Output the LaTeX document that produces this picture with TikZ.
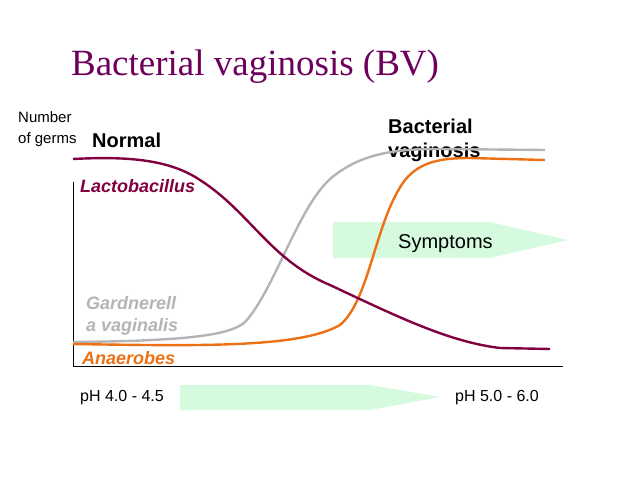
\documentclass[tikz,border=0pt]{standalone}
\usepackage{fontspec}
\setmainfont{Liberation Serif}
\setsansfont{Liberation Sans}
\definecolor{lacto}{RGB}{128,0,64}
\definecolor{gard}{RGB}{180,180,180}
\definecolor{anae}{RGB}{236,112,20}
\definecolor{arrowgreen}{RGB}{214,250,222}
\tikzset{
  lbl/.style={font=\sffamily\fontsize{16}{19}\selectfont, anchor=west, inner sep=0pt},
  curvelbl/.style={font=\sffamily\bfseries\itshape\fontsize{18}{22}\selectfont, anchor=west, inner sep=0pt, align=left},
  headlbl/.style={font=\sffamily\bfseries\fontsize{20}{24}\selectfont, anchor=west, inner sep=0pt, align=left},
  germline/.style={line width=2.4pt}
}
\begin{document}
\begin{tikzpicture}[x=1pt,y=-1pt]
    \useasboundingbox (0,0) rectangle (638,479);
    %Title
    \node (title) at (255,67) {\fontsize{37}{42}\selectfont\color{lacto!85!blue}Bacterial vaginosis (BV)};
    %Axis labels
    \node[lbl, font=\sffamily\fontsize{15}{18}\selectfont, align=left] (number) at (18,129) {Number\\[3pt]of germs};
    \node[headlbl] (normal) at (92,140) {Normal};
    \node[headlbl] (bv) at (388,140) {Bacterial\\vaginosis};
    %Arrows
    \fill[arrowgreen] (333,222) -- (490,222) -- (568,240) -- (490,258) -- (333,258) -- cycle;
    \node[lbl, font=\sffamily\fontsize{20}{24}\selectfont] (symptoms) at (398,244) {Symptoms};
    \fill[arrowgreen] (180,385) -- (370,385) -- (440,397) -- (370,410) -- (180,410) -- cycle;
    %Axes
    \draw[line width=1pt] (73,182) -- (73,366) -- (563,366);
    %Curves
    \draw[germline, gard] (73,342) .. controls (180,341) and (230,336) .. (245,322)
        .. controls (275,290) and (300,200) .. (335,175)
        .. controls (365,152) and (400,149) .. (440,149) -- (545,150);
    \draw[germline, anae] (73,344) .. controls (200,346) and (300,348) .. (340,325)
        .. controls (370,300) and (375,220) .. (405,180)
        .. controls (420,162) and (440,158) .. (470,158) -- (545,160);
    \draw[germline, lacto] (73,159) .. controls (130,156) and (170,160) .. (200,180)
        .. controls (250,212) and (270,260) .. (330,285)
        .. controls (400,318) and (450,342) .. (500,348) -- (550,349);
    %Curve labels
    \node[curvelbl, lacto] (lactolbl) at (80,186) {Lactobacillus};
    \node[curvelbl, gard] (gardlbl) at (86,316) {Gardnerell\\a vaginalis};
    \node[curvelbl, anae] (anaelbl) at (82,358) {Anaerobes};
    %pH labels
    \node[lbl] (phlow) at (80,398) {pH 4.0 - 4.5};
    \node[lbl] (phhigh) at (455,398) {pH 5.0 - 6.0};
\end{tikzpicture}
\end{document}
